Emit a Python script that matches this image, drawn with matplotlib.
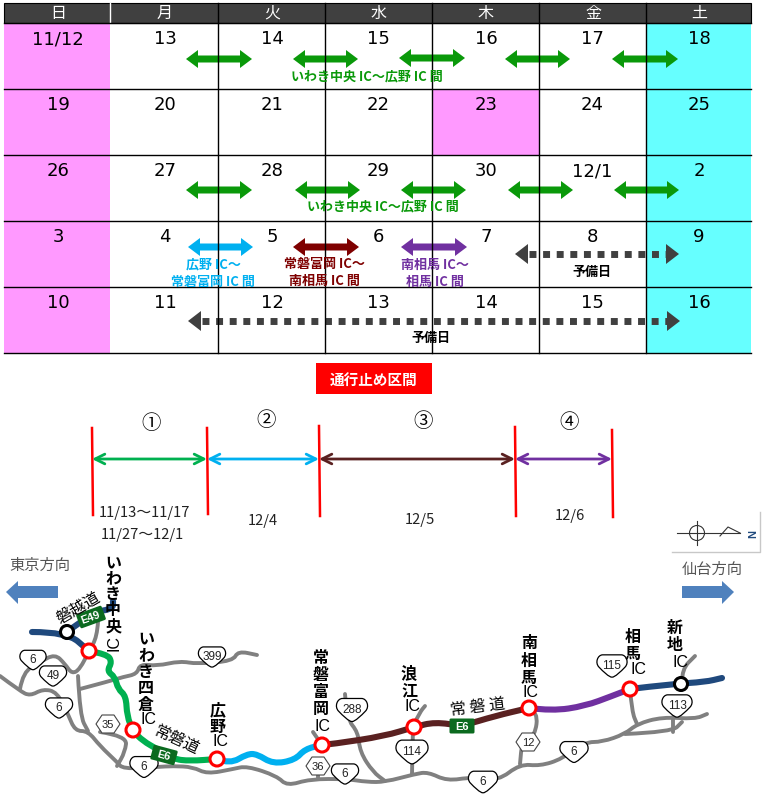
import matplotlib
matplotlib.use("Agg")
import matplotlib.pyplot as plt
from matplotlib.patches import Rectangle, Polygon, Circle, PathPatch, FancyBboxPatch
from matplotlib.path import Path
from matplotlib.transforms import Affine2D

plt.rcParams['font.family'] = ['Liberation Sans', 'Noto Sans CJK JP', 'DejaVu Sans']
JP = ['Noto Sans CJK JP', 'DejaVu Sans']

# Calendar
weekdays = ["日", "月", "火", "水", "木", "金", "土"]
days = [
    ["11/12", "13", "14", "15", "16", "17", "18"],
    ["19", "20", "21", "22", "23", "24", "25"],
    ["26", "27", "28", "29", "30", "12/1", "2"],
    ["3", "4", "5", "6", "7", "8", "9"],
    ["10", "11", "12", "13", "14", "15", "16"],
]
col_edges = [4, 110, 217.5, 324.5, 431.5, 538.5, 645.5, 751]
row_edges = [24, 90, 156, 222, 288, 354]
holidays = [(1, 4)]

GREEN = "#0a990a"
SKY = "#00b0f0"
MAROON = "#7f0000"
PURPLE = "#7030a0"
DARK = "#404040"

# x0, x1, y, colour
work_arrows = [
    (186, 252, 60, GREEN), (293, 358, 60, GREEN), (399, 465, 59, GREEN),
    (505, 570, 60, GREEN), (612, 678, 60, GREEN),
    (186, 252, 191, GREEN), (295, 360, 191, GREEN), (401, 466, 191, GREEN),
    (508, 573, 191, GREEN), (614, 679, 191, GREEN),
    (188, 253, 248, SKY), (293, 359, 248, MAROON), (401, 467, 248, PURPLE),
]
spare_arrows = [(515, 679, 255), (188, 680, 322)]
cell_notes = [
    (367, 77, "いわき中央 IC〜広野 IC 間", GREEN),
    (383, 207, "いわき中央 IC〜広野 IC 間", GREEN),
    (213, 265, "広野 IC〜", SKY),
    (213, 282, "常磐富岡 IC 間", SKY),
    (324, 264, "常磐富岡 IC〜", MAROON),
    (324, 281, "南相馬 IC 間", MAROON),
    (435, 265, "南相馬 IC〜", PURPLE),
    (435, 282, "相馬 IC 間", PURPLE),
    (592, 272, "予備日", "black"),
    (431, 338, "予備日", "black"),
]

# Closure sections
section_x = [92, 207, 319, 515, 612]
section_top = [429, 429, 427, 428, 431]
section_bottom = [516, 515, 517, 517, 518]
section_colors = ["#00b050", "#00b0f0", "#5a2121", "#7030a0"]
section_marks = ["①", "②", "③", "④"]
mark_pos = [(151, 424), (266, 421), (423, 422), (569, 423)]
section_dates = [
    (145, 513, "11/13〜11/17"), (142, 535, "11/27〜12/1"),
    (263, 521, "12/4"), (420, 520, "12/5"), (570, 516, "12/6"),
]

# Expressway pieces of the map
road_green = [(89, 652), (107, 655), (112, 663), (107, 672), (115, 678), (118, 690), (126, 697),
              (127, 717), (133, 732), (143, 742), (157, 750), (173, 760), (190, 762), (217, 760)]
road_blue = [(217, 760), (230, 765), (247, 755), (257, 755), (273, 765), (295, 761), (305, 750), (322, 746)]
road_brown = [(322, 746), (333, 745), (385, 737), (414, 728), (435, 723), (462, 727), (495, 717), (529, 709)]
road_purple = [(529, 709), (552, 712), (585, 707), (612, 697), (630, 690)]
road_navy = [
    [(630, 690), (672, 685), (705, 683), (722, 679)],
    [(32, 633), (67, 633), (89, 652)],
    [(67, 633), (93, 613), (113, 610), (113, 602)],
]
road_gray = [
    [(0, 677), (20, 692), (30, 697), (43, 690), (57, 693), (68, 715), (75, 732), (88, 732), (100, 747),
     (117, 763), (123, 770), (157, 768), (173, 767), (193, 768), (207, 775), (233, 770), (247, 767),
     (277, 777), (287, 787), (310, 780), (347, 780), (367, 783), (385, 783), (415, 775), (428, 773),
     (447, 782), (472, 778), (498, 782), (520, 765), (540, 767), (562, 760), (585, 743), (602, 743),
     (625, 735), (637, 725), (662, 718), (695, 720), (707, 715)],
    [(625, 735), (672, 733), (682, 723)],
    [(673, 718), (673, 733)],
    [(630, 690), (632, 713), (637, 725)],
    [(682, 683), (682, 670), (695, 657)],
    [(529, 709), (538, 713), (535, 737), (522, 743), (520, 765)],
    [(413, 728), (412, 775)],
    [(413, 727), (420, 713), (425, 707)],
    [(80, 690), (110, 682), (123, 678), (137, 675), (140, 665), (157, 667), (180, 662), (197, 665),
     (233, 662), (238, 652), (257, 656)],
    [(20, 690), (23, 673), (40, 663), (55, 655), (65, 665), (72, 675), (80, 670), (89, 652)],
    [(78, 677), (80, 717), (88, 732)],
    [(98, 623), (97, 638), (89, 652)],
    [(100, 733), (127, 737), (125, 753), (117, 767)],
    [(313, 733), (322, 746)],
    [(318, 763), (318, 780)],
    [(345, 695), (347, 720), (358, 733), (360, 753), (373, 773), (385, 782)],
]
ic_red = [(89, 652), (133, 731), (217, 760), (322, 746), (414, 728), (529, 709), (630, 690)]
ic_black = [(67, 633), (681, 685)]

# route number, x, y, width
shields = [("6", 33, 661, 27), ("49", 53, 677, 28), ("6", 59, 709, 28), ("6", 144, 768, 29),
           ("399", 212, 658, 28), ("6", 345, 775, 28), ("288", 352, 711, 32), ("114", 412, 753, 33),
           ("6", 483, 783, 30), ("6", 574, 753, 29), ("115", 612, 667, 31), ("113", 677, 707, 31)]
hexes = [("35", 108, 725), ("36", 318, 767), ("12", 528, 743)]
expressway_signs = [("E49", 91, 618, 20), ("E6", 164, 756, -15), ("E6", 462, 727, 0)]

# characters, x, y of each character, then the IC part
ic_labels = [
    ("いわき中央", 113, [562, 578, 594, 610, 626], "IC", 114, 643, 90),
    ("いわき四倉", 146, [638, 655, 672, 688, 705], "IC", 148, 720, 0),
    ("広野", 218, [710, 727], "IC", 220, 742, 0),
    ("常磐富岡", 321, [658, 675, 692, 709], "IC", 323, 727, 0),
    ("浪江", 409, [673, 690], "IC", 412, 707, 0),
    ("南相馬", 529, [643, 661, 678], "IC", 531, 693, 0),
    ("相馬", 633, [637, 654], "IC", 638, 670, 0),
    ("新地", 675, [628, 645], "IC", 680, 663, 0),
]
road_names = [("磐越道", 78, 608, 30), ("常磐道", 177, 740, -25), ("常 磐 道", 478, 707, 7)]


def double_arrow(ax, x0, x1, y, color):
    pts = [(x0, y), (x0 + 12, y - 9), (x0 + 12, y - 3.5), (x1 - 12, y - 3.5), (x1 - 12, y - 9),
           (x1, y), (x1 - 12, y + 9), (x1 - 12, y + 3.5), (x0 + 12, y + 3.5), (x0 + 12, y + 9)]
    ax.add_patch(Polygon(pts, closed=True, facecolor=color, edgecolor="none", zorder=2))


def spare_arrow(ax, x0, x1, y):
    ax.plot([x0 + 14, x1 - 13], [y, y], color=DARK, lw=5, dashes=(1, 0.96), dash_capstyle="butt", zorder=2)
    ax.add_patch(Polygon([(x0, y), (x0 + 13, y - 10), (x0 + 13, y + 10)], facecolor=DARK, edgecolor="none", zorder=2))
    ax.add_patch(Polygon([(x1, y), (x1 - 13, y - 10), (x1 - 13, y + 10)], facecolor=DARK, edgecolor="none", zorder=2))


def shield(ax, label, x, y, w):
    h = w * 0.72
    verts = [(-.3, -.5), (-.46, -.5), (-.56, -.15), (-.42, .05), (-.28, .25), (-.1, .5), (0, .5),
             (.1, .5), (.28, .25), (.42, .05), (.56, -.15), (.46, -.5), (.3, -.5), (-.3, -.5)]
    codes = [Path.MOVETO] + [Path.CURVE4] * 12 + [Path.CLOSEPOLY]
    tr = Affine2D().scale(w, h).translate(x, y) + ax.transData
    ax.add_patch(PathPatch(Path(verts, codes), facecolor="white", edgecolor="black", lw=0.9, transform=tr, zorder=5))
    ax.text(x, y - 1, label, fontsize=8.5, ha="center", va="center", color="#222222", zorder=6)


def hexagon(ax, label, x, y):
    pts = [(x - 12, y), (x - 6, y - 9), (x + 6, y - 9), (x + 12, y), (x + 6, y + 9), (x - 6, y + 9)]
    ax.add_patch(Polygon(pts, facecolor="white", edgecolor="#444444", lw=0.8, zorder=5))
    ax.text(x, y, label, fontsize=8, ha="center", va="center", color="#222222", zorder=6)


# rounds the corners by bending through the midpoints of the read points
def polyline(ax, pts, color, lw, z=3):
    verts = [pts[0]]
    codes = [Path.MOVETO]
    for i in range(1, len(pts) - 1):
        mid = ((pts[i][0] + pts[i + 1][0]) / 2, (pts[i][1] + pts[i + 1][1]) / 2)
        verts += [pts[i], mid]
        codes += [Path.CURVE3, Path.CURVE3]
    verts.append(pts[-1])
    codes.append(Path.LINETO)
    ax.add_patch(PathPatch(Path(verts, codes), facecolor="none", edgecolor=color, lw=lw, capstyle="round",
                           joinstyle="round", zorder=z))


fig = plt.figure(figsize=(7.7, 8.03), dpi=100)
ax = fig.add_axes([0, 0, 1, 1])
ax.set_xlim(0, 770)
ax.set_ylim(803, 0)
ax.axis("off")

# header band
ax.add_patch(Rectangle((4, 4), 747, 20, facecolor=DARK, edgecolor="black", lw=0.8, zorder=1))
for i, name in enumerate(weekdays):
    ax.text((col_edges[i] + col_edges[i + 1]) / 2 + 1, 13.5, name, color="white", fontsize=11.5, ha="center",
            va="center", family=JP, zorder=4)

# cell fills
for r in range(5):
    ax.add_patch(Rectangle((4, row_edges[r]), 106, row_edges[r + 1] - row_edges[r], facecolor="#ff99ff", edgecolor="none", zorder=0))
    ax.add_patch(Rectangle((645.5, row_edges[r]), 105.5, row_edges[r + 1] - row_edges[r], facecolor="#66ffff", edgecolor="none", zorder=0))
for r, c in holidays:
    ax.add_patch(Rectangle((col_edges[c], row_edges[r]), col_edges[c + 1] - col_edges[c], row_edges[r + 1] - row_edges[r],
                           facecolor="#ff99ff", edgecolor="none", zorder=0))

for x0, x1, y, color in work_arrows:
    double_arrow(ax, x0, x1, y, color)
for x0, x1, y in spare_arrows:
    spare_arrow(ax, x0, x1, y)

# grid
for x in col_edges[2:-1]:
    ax.plot([x, x], [4, row_edges[-1]], color="black", lw=1, zorder=3)
ax.plot([110, 110], [4, 24], color="white", lw=1, zorder=3)
for y in row_edges:
    ax.plot([4, 751], [y, y], color="black", lw=1, zorder=3)

label_x = [58, 165, 272, 378, 486, 592, 699]
for r, row in enumerate(days):
    for c, label in enumerate(row):
        ax.text(label_x[c], row_edges[r] + 15, label, fontsize=13, family="DejaVu Sans", ha="center", va="center", zorder=4)

for x, y, text, color in cell_notes:
    ax.text(x, y, text, color=color, fontsize=9.4, weight="bold", ha="center", va="center", family=JP, zorder=4)

# closure section block
ax.add_patch(Rectangle((316, 364), 116, 31, facecolor="#ff0000", edgecolor="none"))
ax.text(374, 380, "通行止め区間", color="white", fontsize=10.5, ha="center", va="center", family=JP, weight="bold")
for x, t, b in zip(section_x, section_top, section_bottom):
    ax.plot([x, x + 1], [t, b], color="#ff0000", lw=1.8, zorder=3)
for i, color in enumerate(section_colors):
    ax.annotate("", xy=(section_x[i + 1], 460), xytext=(section_x[i], 460),
                arrowprops=dict(arrowstyle="<->,head_length=0.7,head_width=0.35", color=color, lw=2,
                                shrinkA=0, shrinkB=0), zorder=4)
for (x, y), mark in zip(mark_pos, section_marks):
    ax.text(x, y, mark, fontsize=14, ha="center", va="center", family=JP)
for x, y, text in section_dates:
    ax.text(x, y, text, fontsize=10.6, ha="center", va="center", family=JP, color="#222222")

# compass
ax.plot([672, 760, 760], [553, 553, 513], color="#c8c8c8", lw=1)
ax.plot([677, 740], [534, 534], color="#333333", lw=0.8)
ax.plot([697, 697], [522, 546], color="#333333", lw=0.8)
ax.add_patch(Circle((697, 534), 7.5, facecolor="none", edgecolor="#333333", lw=0.8))
ax.plot([720, 728, 740], [537, 528, 534], color="#333333", lw=0.8)
ax.text(749, 534, "N", rotation=-90, fontsize=8, color="#1f497d", weight="bold", ha="center", va="center")

# direction arrows
ax.text(40, 565, "東京方向", fontsize=11, color="#555555", ha="center", va="center", family=JP)
ax.text(712, 569, "仙台方向", fontsize=11, color="#555555", ha="center", va="center", family=JP)
ax.add_patch(Polygon([(6, 593), (18, 582), (18, 587), (58, 587), (58, 599), (18, 599), (18, 605)],
                     facecolor="#4f81bd", edgecolor="none"))
ax.add_patch(Polygon([(734, 593), (722, 582), (722, 587), (682, 587), (682, 599), (722, 599), (722, 605)],
                     facecolor="#4f81bd", edgecolor="none"))

# map
for pts in road_gray:
    polyline(ax, pts, "#808080", 2.8, z=2)
polyline(ax, road_green, "#00b050", 4.4)
polyline(ax, road_blue, "#00b0f0", 4.4)
polyline(ax, road_brown, "#5a2121", 4.4)
polyline(ax, road_purple, "#7030a0", 4.4)
for pts in road_navy:
    polyline(ax, pts, "#1f497d", 4.4)

for x, y in ic_red:
    ax.add_patch(Circle((x, y), 7, facecolor="white", edgecolor="#ff0000", lw=2.2, zorder=7))
for x, y in ic_black:
    ax.add_patch(Circle((x, y), 6.5, facecolor="white", edgecolor="black", lw=2.2, zorder=7))

for label, x, y, w in shields:
    shield(ax, label, x, y, w)
for label, x, y in hexes:
    hexagon(ax, label, x, y)
for label, x, y, rot in expressway_signs:
    tr = Affine2D().rotate_deg_around(x, y, -rot) + ax.transData
    w = 13 if label == "E6" else 14
    ax.add_patch(FancyBboxPatch((x - w + 2, y - 6), 2 * w - 4, 12, boxstyle="round,pad=1.5", facecolor="#0b6a1f",
                                edgecolor="none", transform=tr, zorder=6))
    ax.text(x, y, label, color="white", fontsize=8, weight="bold", rotation=rot, rotation_mode="anchor",
            ha="center", va="center", zorder=8)

for chars, x, ys, ic, ic_x, ic_y, ic_rot in ic_labels:
    for ch, y in zip(chars, ys):
        ax.text(x, y, ch, fontsize=11.5, weight="bold", ha="center", va="center", family=JP, zorder=9)
    ax.text(ic_x, ic_y, ic, fontsize=11.5, ha="center", va="center", rotation=ic_rot, zorder=9)
for text, x, y, rot in road_names:
    ax.text(x, y, text, fontsize=11.5, rotation=rot, rotation_mode="anchor", ha="center", va="center",
            family=JP, zorder=9)

fig.savefig("out.png", dpi=100)
